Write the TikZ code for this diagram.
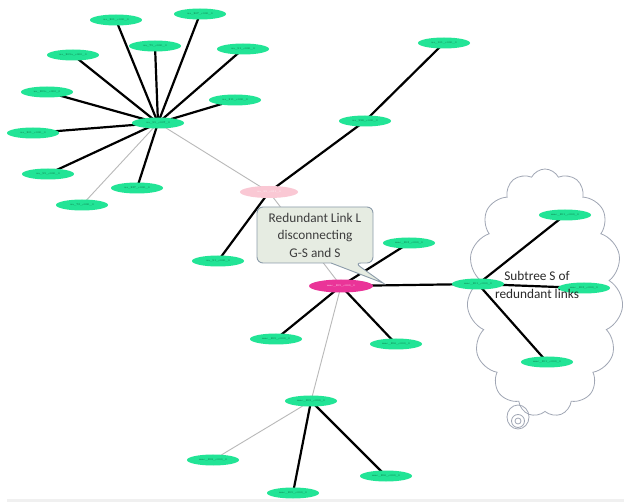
\documentclass[tikz,border=0pt]{standalone}
\usepackage{fontspec}
\newfontfamily\labelfont{Carlito}
\usetikzlibrary{shapes.geometric,shapes.symbols,backgrounds}

\definecolor{leaf}{RGB}{34,228,150}
\definecolor{leaftext}{RGB}{10,100,60}
\definecolor{gatepink}{RGB}{250,200,212}
\definecolor{rootmag}{RGB}{234,52,152}
\definecolor{thinlink}{RGB}{185,185,185}
\definecolor{cloudline}{RGB}{160,166,180}
\definecolor{calloutfill}{RGB}{230,236,226}
\definecolor{calloutline}{RGB}{140,156,170}

\tikzset{
  vert/.style={ellipse, fill=leaf, minimum width=52pt, minimum height=11pt,
    inner sep=0pt, text=leaftext, font=\fontsize{2.6}{3}\selectfont},
  gate/.style={vert, fill=gatepink, minimum width=58pt, minimum height=12pt, text=white},
  rootv/.style={vert, fill=rootmag, minimum width=64pt, minimum height=13pt, text=white},
  strong/.style={line width=2.2pt, black},
  weak/.style={line width=0.9pt, thinlink},
  calloutbox/.style={draw=calloutline, fill=calloutfill, line width=0.9pt},
  note/.style={font=\labelfont\fontsize{13.3}{17.5}\selectfont, align=center},
}

\begin{document}
\begin{tikzpicture}[x=1pt,y=-1pt]
\useasboundingbox (0,0) rectangle (624,502);

% upper-left cluster
\node[vert] (h0)  at (158,123) {ua\_95\_c007\_0};
\node[vert] (t1)  at (116,20)  {ua\_201\_c000\_0};
\node[vert] (t2)  at (200,14)  {ua\_207\_c000\_0};
\node[vert] (t3)  at (155,46)  {ua\_75\_c000\_0};
\node[vert] (t4)  at (243,49)  {ua\_91\_c000\_0};
\node[vert] (t5)  at (73,55)   {ua\_205a\_c000\_0};
\node[vert] (t6)  at (47,92)   {ua\_205c\_c000\_0};
\node[vert] (t7)  at (235,100) {ua\_211\_c000\_0};
\node[vert] (t8)  at (33,133)  {ua\_201\_c000\_0};
\node[vert] (t9)  at (48,174)  {ua\_95\_c000\_0};
\node[vert] (t10) at (137,188) {ua\_227\_c000\_0};
\node[vert] (t11) at (82,205)  {ua\_73\_c000\_0};

% gateway and upper chain
\node[gate] (p)   at (269,192) {ua\_95\_c011\_0};
\node[vert] (m1)  at (365,121) {ua\_998\_c000\_0};
\node[vert] (m2)  at (444,43)  {ua\_101\_c000\_0};
\node[vert] (g1)  at (218,261) {ua\_91\_c000\_0};

% lower root and its neighbours
\node[rootv] (mg) at (341,286) {mac\_205\_c000\_0};
\node[vert] (n1)  at (409,243) {mac\_203\_c000\_0};
\node[vert] (l1)  at (276,339) {mac\_205\_c000\_0};
\node[vert] (l2)  at (396,344) {mac\_206\_c000\_0};
\node[vert] (b0)  at (311,401) {mac\_209\_c000\_0};
\node[vert] (b1)  at (213,460) {mac\_208\_c000\_0};
\node[vert] (b2)  at (293,493) {mac\_205\_c000\_0};
\node[vert] (b3)  at (386,476) {mac\_206\_c000\_0};

% subtree inside the cloud
\node[vert] (c0)  at (478,284) {mac\_201\_c000\_0};
\node[vert] (c1)  at (565,215) {mac\_201\_c000\_0};
\node[vert] (c2)  at (584,288) {mac\_203\_c000\_0};
\node[vert] (c3)  at (547,362) {mac\_201\_c000\_0};

\begin{scope}[on background layer]
  \fill[white] (0,0) rectangle (624,502);
  % bottom strip
  \fill[black!6] (7,499) rectangle (624,502);
  % cloud around the subtree
  \node[cloud, draw=cloudline, line width=0.8pt, cloud puffs=15, cloud puff arc=125,
        aspect=0.64, minimum width=156pt, minimum height=248pt, inner sep=0pt]
        (cl) at (545,293) {};
  \draw[cloudline, line width=0.8pt] (518,417) ellipse (11 and 12);
  \draw[cloudline, line width=0.8pt] (518,421) circle (6.5);
  \draw[cloudline, line width=0.8pt] (518,421) circle (3);

  % links
  \foreach \t in {t1,t2,t3,t4,t5,t6,t7,t8,t9,t10}
    \draw[strong] (h0.center) -- (\t.center);
  \draw[weak] (h0.center) -- (t11.center);
  \draw[weak] (h0.center) -- (p.center);
  \draw[strong] (p.center) -- (m1.center);
  \draw[strong] (m1.center) -- (m2.center);
  \draw[strong] (p.center) -- (g1.center);
  \draw[weak] (p.center) -- (mg.center);
  \draw[strong] (mg.center) -- (n1.center);
  \draw[strong] (mg.center) -- (l1.center);
  \draw[strong] (mg.center) -- (l2.center);
  \draw[strong] (mg.center) -- (c0.center);
  \draw[weak] (mg.center) -- (b0.center);
  \draw[weak] (b0.center) -- (b1.center);
  \draw[strong] (b0.center) -- (b2.center);
  \draw[strong] (b0.center) -- (b3.center);
  \draw[strong] (c0.center) -- (c1.center);
  \draw[strong] (c0.center) -- (c2.center);
  \draw[strong] (c0.center) -- (c3.center);
\end{scope}

% callout naming the redundant link
\draw[calloutbox] (257,235) [rounded corners=6pt] -- (257,207) -- (373,207)
  -- (373,263) -- (355,263) [sharp corners] -- (383,283) -- (331,263)
  [rounded corners=6pt] -- (257,263) -- cycle;
\node[note, text=black!76] (lnote) at (315,235)
  {Redundant Link L\\disconnecting\\G-S and S};

\node[note, text=black!84] (snote) at (537,285) {Subtree S of\\redundant links};
\end{tikzpicture}
\end{document}
